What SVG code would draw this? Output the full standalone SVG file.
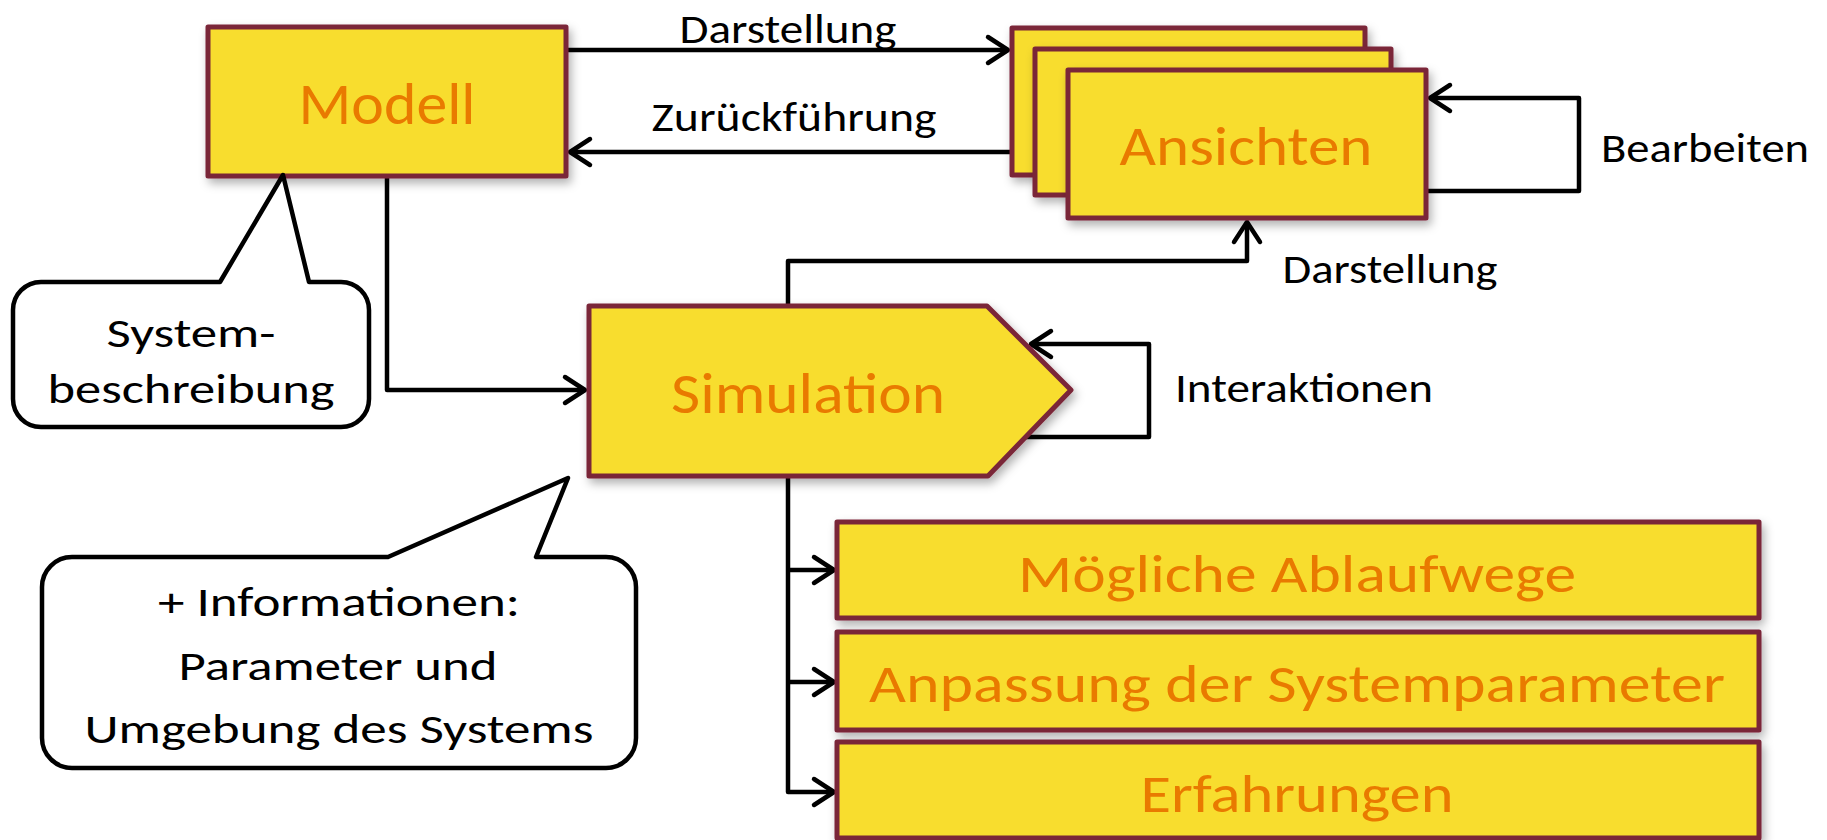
<svg xmlns="http://www.w3.org/2000/svg" width="1827" height="840" viewBox="0 0 1827 840">
<style>
.box{fill:#F8DD2E;stroke:#7A2638;stroke-width:5;stroke-linejoin:round;filter:url(#sh)}
.ntxt{font-family:Carlito,Calibri,"Liberation Sans",sans-serif;fill:#E97A00;text-anchor:middle}
.lbl{font-family:Carlito,Calibri,"Liberation Sans",sans-serif;fill:#000;text-anchor:middle;font-size:41px}
.con{fill:none;stroke:#000;stroke-width:4.5;stroke-linejoin:round}
.call{fill:#fff;stroke:#000;stroke-width:4.5;stroke-linejoin:round}
</style>
<defs>
<filter id="sh" x="-10%" y="-20%" width="125%" height="145%">
<feDropShadow dx="3" dy="5" stdDeviation="5" flood-color="#000" flood-opacity="0.3"/>
</filter>
<marker id="arr" markerUnits="userSpaceOnUse" viewBox="-26 -18 32 36" markerWidth="32" markerHeight="36" refX="0" refY="0" orient="auto" overflow="visible">
<path d="M-20,-13 L0,0 L-20,13" fill="none" stroke="#000" stroke-width="4.5" stroke-linecap="round" stroke-linejoin="round"/>
</marker>
</defs>
<rect width="1827" height="840" fill="#fff"/>

<g id="connectors">
<path class="con" d="M566,50 L1008,50" marker-end="url(#arr)"/>
<path class="con" d="M1011,152 L570,152" marker-end="url(#arr)"/>
<path class="con" d="M1426,191 L1579,191 L1579,98 L1430,98" marker-end="url(#arr)"/>
<path class="con" d="M788,306 L788,261 L1247,261 L1247,222" marker-end="url(#arr)"/>
<path class="con" d="M387,176 L387,390 L585,390" marker-end="url(#arr)"/>
<path class="con" d="M1024,437 L1149,437 L1149,344 L1031,344" marker-end="url(#arr)"/>
<path class="con" d="M788,476 L788,792 L834,792" marker-end="url(#arr)"/>
<path class="con" d="M788,570 L834,570" marker-end="url(#arr)"/>
<path class="con" d="M788,682 L834,682" marker-end="url(#arr)"/>
<text class="lbl" x="788" y="43" textLength="217" lengthAdjust="spacingAndGlyphs">Darstellung</text>
<text class="lbl" x="794" y="131" textLength="285" lengthAdjust="spacingAndGlyphs">Zurückführung</text>
<text class="lbl" x="1705" y="162" textLength="208" lengthAdjust="spacingAndGlyphs">Bearbeiten</text>
<text class="lbl" x="1390" y="283" textLength="215" lengthAdjust="spacingAndGlyphs">Darstellung</text>
<text class="lbl" x="1304" y="402" textLength="258" lengthAdjust="spacingAndGlyphs">Interaktionen</text>
</g>

<g id="modell">
<rect class="box" x="208" y="27" width="358" height="149"/>
<text class="ntxt" x="387" y="124" font-size="59" textLength="177" lengthAdjust="spacingAndGlyphs">Modell</text>
</g>

<g id="ansichten">
<rect class="box" x="1012" y="28" width="353" height="147"/>
<rect class="box" x="1035" y="49" width="356" height="146"/>
<rect class="box" x="1068" y="70" width="358" height="148"/>
<text class="ntxt" x="1246" y="165" font-size="56" textLength="253" lengthAdjust="spacingAndGlyphs">Ansichten</text>
</g>

<g id="simulation">
<path class="box" d="M589,306 L987,306 L1071,390 L988,476 L589,476 Z"/>
<text class="ntxt" x="808" y="413" font-size="57" textLength="274" lengthAdjust="spacingAndGlyphs">Simulation</text>
</g>

<g id="systembeschreibung">
<path class="call" d="M41,282 L220,282 L283,175 L309,282 L341,282 A28,28 0 0 1 369,310 L369,399 A28,28 0 0 1 341,427 L41,427 A28,28 0 0 1 13,399 L13,310 A28,28 0 0 1 41,282 Z"/>
<text class="lbl" x="191" y="347" font-size="42" textLength="169" lengthAdjust="spacingAndGlyphs">System-</text>
<text class="lbl" x="191" y="403" font-size="42" textLength="287" lengthAdjust="spacingAndGlyphs">beschreibung</text>
</g>

<g id="informationen">
<path class="call" d="M72,557 L388,557 L568,478 L536,557 L606,557 A30,30 0 0 1 636,587 L636,738 A30,30 0 0 1 606,768 L72,768 A30,30 0 0 1 42,738 L42,587 A30,30 0 0 1 72,557 Z"/>
<text class="lbl" x="339" y="616" font-size="40" textLength="362" lengthAdjust="spacingAndGlyphs">+ Informationen:</text>
<text class="lbl" x="338" y="680" font-size="40" textLength="319" lengthAdjust="spacingAndGlyphs">Parameter und</text>
<text class="lbl" x="339" y="743" font-size="40" textLength="509" lengthAdjust="spacingAndGlyphs">Umgebung des Systems</text>
</g>

<g id="ablaufwege">
<rect class="box" x="837" y="522" width="922" height="96"/>
<text class="ntxt" x="1297" y="592" font-size="54" textLength="558" lengthAdjust="spacingAndGlyphs">Mögliche Ablaufwege</text>
</g>

<g id="systemparameter">
<rect class="box" x="837" y="632" width="922" height="98"/>
<text class="ntxt" x="1297" y="702" font-size="54" textLength="856" lengthAdjust="spacingAndGlyphs">Anpassung der Systemparameter</text>
</g>

<g id="erfahrungen">
<rect class="box" x="837" y="742" width="922" height="96"/>
<text class="ntxt" x="1297" y="812" font-size="54" textLength="313" lengthAdjust="spacingAndGlyphs">Erfahrungen</text>
</g>
</svg>
